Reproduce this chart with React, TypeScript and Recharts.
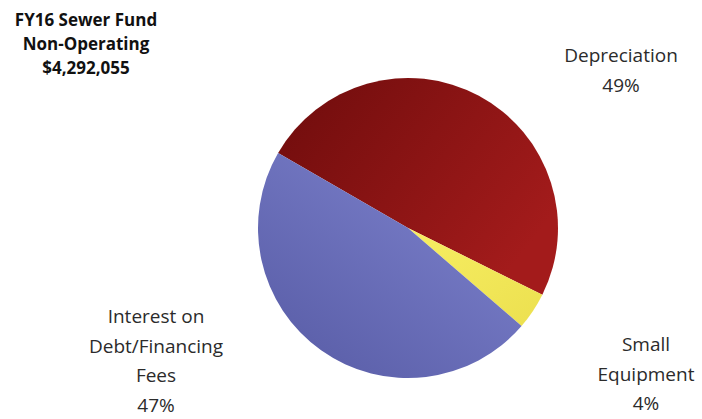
import { PieChart, Pie, Cell } from 'recharts';

// FY16 Sewer Fund non-operating budget, share by category
const categories = ['Depreciation', 'Small Equipment', 'Interest on Debt/Financing Fees'];
const shares = [49, 4, 47];
const labelLines = [['Depreciation'], ['Small', 'Equipment'], ['Interest on', 'Debt/Financing', 'Fees']];
const titleLines = ['FY16 Sewer Fund', 'Non-Operating', '$4,292,055'];

const data = categories.map((name, i) => ({ name, value: shares[i] }));

const fills = ['url(#gradRed)', 'url(#gradYellow)', 'url(#gradBlue)'];
// where each label block is centred (x, first baseline)
const labelPos = [
  { x: 621, y: 62 },
  { x: 646, y: 351 },
  { x: 156, y: 323 },
];
const lineGap = 29.5;

const font = '"Open Sans", sans-serif';

function renderLabel(props: any) {
  const { index, percent } = props;
  const pos = labelPos[index];
  const lines = [...labelLines[index], `${Math.round(percent * 100)}%`];
  return (
    <text
      key={`lbl-${index}`}
      x={pos.x}
      y={pos.y}
      textAnchor="middle"
      fontFamily={font}
      fontSize={19}
      fill="#2b2b2b"
    >
      {lines.map((l, i) => (
        <tspan key={i} x={pos.x} dy={i === 0 ? 0 : lineGap}>
          {l}
        </tspan>
      ))}
    </text>
  );
}

export default function App() {
  return (
    <div style={{ position: 'absolute', left: 0, top: 0, width: 702, height: 419, background: '#fff' }}>
      <PieChart width={702} height={419} margin={{ top: 0, right: 0, bottom: 0, left: 0 }}>
        <defs>
          <linearGradient id="gradRed" x1="0" y1="0" x2="1" y2="0.6">
            <stop offset="0%" stopColor="#6e0c0c" />
            <stop offset="100%" stopColor="#a31b1b" />
          </linearGradient>
          <linearGradient id="gradBlue" x1="0.2" y1="1" x2="0.9" y2="0.2">
            <stop offset="0%" stopColor="#5a5ea8" />
            <stop offset="100%" stopColor="#7a7fca" />
          </linearGradient>
          <linearGradient id="gradYellow" x1="0" y1="0" x2="1" y2="1">
            <stop offset="0%" stopColor="#f7ee63" />
            <stop offset="100%" stopColor="#ece04f" />
          </linearGradient>
        </defs>
        <Pie
          data={data}
          dataKey="value"
          nameKey="name"
          cx={408}
          cy={228}
          outerRadius={150}
          startAngle={150}
          endAngle={-210}
          stroke="none"
          label={renderLabel}
          labelLine={false}
          isAnimationActive={false}
        >
          {data.map((d, i) => (
            <Cell key={d.name} fill={fills[i]} />
          ))}
        </Pie>
        <text textAnchor="middle" fontFamily={font} fontWeight="bold" fontSize={17} fill="#111">
          {titleLines.map((l, i) => (
            <tspan key={i} x={86} y={26 + i * 24}>
              {l}
            </tspan>
          ))}
        </text>
      </PieChart>
    </div>
  );
}
